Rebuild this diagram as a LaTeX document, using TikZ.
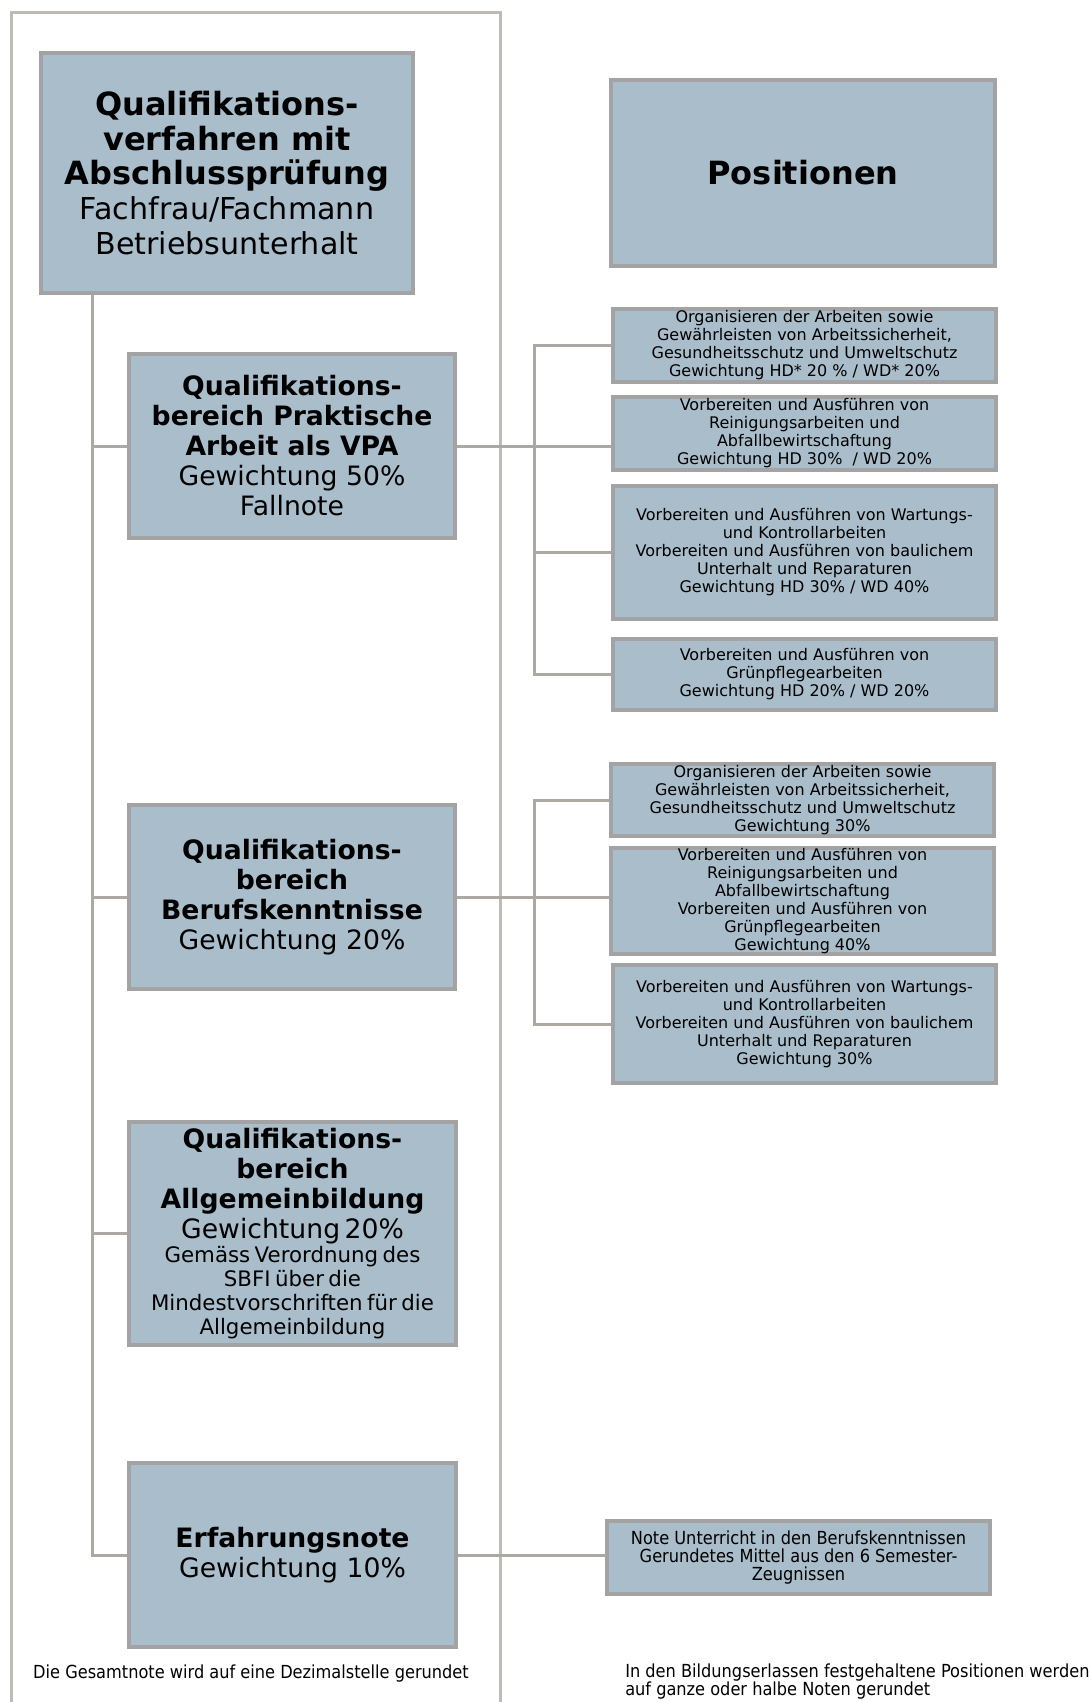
\documentclass[tikz,border=0pt]{standalone}
\usepackage{fontspec}
\setmainfont{DejaVu Sans}
\newfontfamily\condf{DejaVu Sans Condensed}
\definecolor{boxfill}{RGB}{169,189,202}
\definecolor{boxline}{RGB}{163,163,163}
\definecolor{connc}{RGB}{172,168,164}
\definecolor{framec}{RGB}{190,186,182}
\newcommand\ftop{\fontsize{24}{26}\selectfont}
\newcommand\ftopreg{\fontsize{22.6}{26}\selectfont}
\newcommand\fmid{\fontsize{20}{22.5}\selectfont}
\newcommand\fsmall{\fontsize{16}{18}\selectfont}
\newcommand\fpos{\fontsize{12}{13.5}\selectfont}
\newcommand\fcnd{\condf\fontsize{13.5}{13.5}\selectfont}
\begin{document}
\begin{tikzpicture}[x=0.75pt,y=-0.75pt,
  bx/.style={draw=boxline, line width=3pt, fill=boxfill, align=center, inner sep=0pt, text=black},
  ln/.style={draw=connc, line width=2.25pt},
  fr/.style={draw=framec, line width=2.25pt},
]
\useasboundingbox (0,0) rectangle (1090,1702);
% outer frame
\draw[fr] (11,1702) -- (11,13) -- (500,13) -- (500,1702);

% main boxes
\node[bx, minimum width=279pt, minimum height=180pt, font=\ftop] (top) at (227,173)
  {\textbf{Qualifikations-}\\\textbf{verfahren mit}\\\textbf{Abschlussprüfung}\\{\ftopreg Fachfrau/Fachmann}\\{\ftopreg Betriebsunterhalt}};
\node[bx, minimum width=288pt, minimum height=140pt, font=\ftop] (pos) at (803,173)
  {\textbf{Positionen}};
\node[bx, minimum width=245pt, minimum height=138pt, font=\fmid] (prak) at (292,446)
  {\textbf{Qualifikations-}\\\textbf{bereich Praktische}\\\textbf{Arbeit als VPA}\\Gewichtung 50\%\\Fallnote};
\node[bx, minimum width=245pt, minimum height=138pt, font=\fmid] (beruf) at (292,897)
  {\textbf{Qualifikations-}\\\textbf{bereich}\\\textbf{Berufskenntnisse}\\Gewichtung 20\%};
\node[bx, minimum width=245pt, minimum height=167pt, text width=240pt] (allg) at (292.5,1233.5)
  {\fmid\bfseries Qualifikations-\\bereich\\Allgemeinbildung\par
   \mdseries Gewichtung 20\%\par
   \fsmall Gemäss Verordnung des\\SBFI über die\\Mindestvorschriften für die\\Allgemeinbildung\par};
\node[bx, minimum width=245pt, minimum height=138pt, font=\fmid] (erf) at (292.5,1555)
  {\textbf{Erfahrungsnote}\\Gewichtung 10\%};

% positions of practical work
\node[bx, minimum width=287pt, minimum height=55pt, font=\fpos] (P1) at (804.5,345.5)
  {Organisieren der Arbeiten sowie\\Gewährleisten von Arbeitssicherheit,\\Gesundheitsschutz und Umweltschutz\\Gewichtung HD* 20 \% / WD* 20\%};
\node[bx, minimum width=287pt, minimum height=55pt, font=\fpos] (P2) at (804.5,433.5)
  {Vorbereiten und Ausführen von\\Reinigungsarbeiten und\\Abfallbewirtschaftung\\Gewichtung HD 30\% \ / WD 20\%};
\node[bx, minimum width=287pt, minimum height=100pt, font=\fpos] (P3) at (804.5,552.5)
  {Vorbereiten und Ausführen von Wartungs-\\und Kontrollarbeiten\\Vorbereiten und Ausführen von baulichem\\Unterhalt und Reparaturen\\Gewichtung HD 30\% / WD 40\%};
\node[bx, minimum width=287pt, minimum height=53pt, font=\fpos] (P4) at (804.5,674.5)
  {Vorbereiten und Ausführen von\\Grünpflegearbeiten\\Gewichtung HD 20\% / WD 20\%};

% positions of professional knowledge
\node[bx, minimum width=287pt, minimum height=54pt, font=\fpos] (B1) at (802.5,800)
  {Organisieren der Arbeiten sowie\\Gewährleisten von Arbeitssicherheit,\\Gesundheitsschutz und Umweltschutz\\Gewichtung 30\%};
\node[bx, minimum width=287pt, minimum height=74pt, font=\fpos] (B2) at (802.5,901)
  {Vorbereiten und Ausführen von\\Reinigungsarbeiten und\\Abfallbewirtschaftung\\Vorbereiten und Ausführen von\\Grünpflegearbeiten\\Gewichtung 40\%};
\node[bx, minimum width=287pt, minimum height=89pt, font=\fpos] (B3) at (804.5,1024)
  {Vorbereiten und Ausführen von Wartungs-\\und Kontrollarbeiten\\Vorbereiten und Ausführen von baulichem\\Unterhalt und Reparaturen\\Gewichtung 30\%};

% experience grade
\node[bx, minimum width=287pt, minimum height=55pt, font=\fcnd] (E1) at (798.5,1557.5)
  {Note Unterricht in den Berufskenntnissen\\Gerundetes Mittel aus den 6 Semester-\\Zeugnissen};

% connectors
\coordinate (tx) at (92,0);
\coordinate (bus) at (534,0);
\draw[ln] (top.south -| tx) |- (erf.west);
\draw[ln] (tx |- prak.west) -- (prak.west);
\draw[ln] (tx |- beruf.west) -- (beruf.west);
\draw[ln] (tx |- allg.west) -- (allg.west);

\draw[ln] (prak.east) -- (prak.east -| P2.west);
\draw[ln] (P1.west) -- (bus |- P1.west) -- (bus |- P4.west) -- (P4.west);
\draw[ln] (bus |- P3.west) -- (P3.west);

\draw[ln] (beruf.east) -- (beruf.east -| B2.west);
\draw[ln] (B1.west) -- (bus |- B1.west) -- (bus |- B3.west) -- (B3.west);

\draw[ln] (erf.east) -- (erf.east -| E1.west);

% notes
\node[font=\fcnd, inner sep=0pt] (note1) at (251,1674)
  {Die Gesamtnote wird auf eine Dezimalstelle gerundet};
\node[font=\fcnd, inner sep=0pt, anchor=north west, align=left] (note2) at (625,1664)
  {In den Bildungserlassen festgehaltene Positionen werden\\auf ganze oder halbe Noten gerundet};
\end{tikzpicture}
\end{document}
